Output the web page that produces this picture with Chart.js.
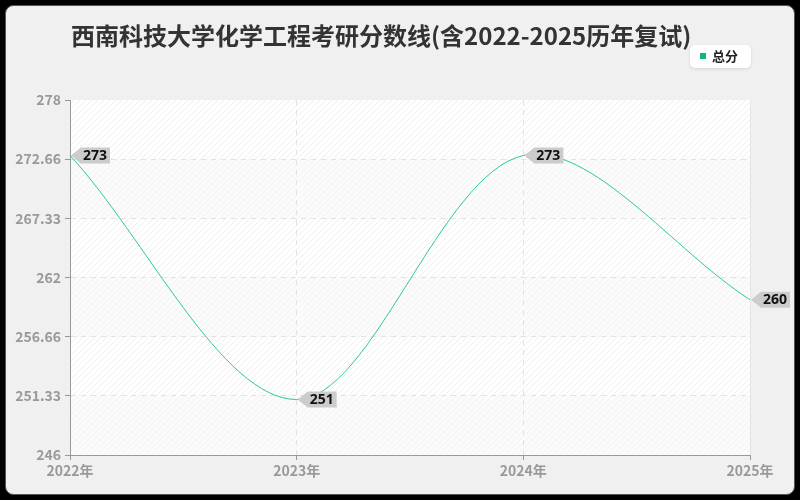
<!DOCTYPE html>
<html>
<head>
<meta charset="utf-8">
<script src="https://cdn.jsdelivr.net/npm/chart.js@4.4.1/dist/chart.umd.min.js"></script>
<style>
  html, body { margin: 0; padding: 0; background: #000; }
  #wrap { width: 800px; height: 500px; position: relative; }
</style>
</head>
<body>
<div id="wrap"><canvas id="scoreChart" width="800" height="500"></canvas></div>
<script>
// chart data
var years = ['2022年', '2023年', '2024年', '2025年'];
var totalScores = [273, 251, 273, 260];
var seriesName = '总分';
var yTickLabels = ['246', '251.33', '256.66', '262', '267.33', '272.66', '278'];
var yMin = 246, yMax = 278;
var titleText = '西南科技大学化学工程考研分数线(含2022-2025历年复试)';

var lineColor = '#2fc79b';
var cjk = '"Noto Sans CJK SC", "Noto Sans", sans-serif';

function hatch(bg, fg) {
  var c = document.createElement('canvas');
  c.width = 6; c.height = 6;
  var g = c.getContext('2d');
  g.fillStyle = bg;
  g.fillRect(0, 0, 6, 6);
  g.strokeStyle = fg;
  g.lineWidth = 1;
  g.beginPath();
  g.moveTo(0, 6); g.lineTo(6, 0);
  g.moveTo(-1, 1); g.lineTo(1, -1);
  g.moveTo(5, 7); g.lineTo(7, 5);
  g.stroke();
  return c;
}

// card background, title, legend and banded hatched plot area
var frame = {
  id: 'frame',
  beforeDraw: function(chart) {
    var ctx = chart.ctx, a = chart.chartArea;
    ctx.save();
    ctx.fillStyle = '#000';
    ctx.fillRect(0, 0, 800, 500);
    ctx.beginPath();
    ctx.roundRect(5.5, 5.5, 789, 489, 8);
    ctx.fillStyle = '#f0f0f0';
    ctx.fill();
    ctx.strokeStyle = '#555';
    ctx.lineWidth = 1;
    ctx.stroke();

    var strong = ctx.createPattern(hatch('#ffffff', '#eeeeee'), 'repeat');
    var faint = ctx.createPattern(hatch('#fbfbfb', '#f3f3f3'), 'repeat');
    var y = chart.scales.y;
    for (var i = 0; i < yTickLabels.length - 1; i++) {
      var v0 = yMin + i * (yMax - yMin) / 6;
      var v1 = yMin + (i + 1) * (yMax - yMin) / 6;
      var top = y.getPixelForValue(v1), bot = y.getPixelForValue(v0);
      ctx.fillStyle = (i % 2 === 1) ? strong : faint;
      if (i === 5) ctx.fillStyle = strong;
      if (i === 4) ctx.fillStyle = faint;
      ctx.fillRect(a.left, top, a.right - a.left, bot - top);
    }
    ctx.strokeStyle = '#e4e4e4';
    ctx.beginPath();
    ctx.moveTo(a.right + 0.5, a.top);
    ctx.lineTo(a.right + 0.5, a.bottom);
    ctx.stroke();

    // title
    ctx.fillStyle = '#333';
    ctx.font = 'bold 24px ' + cjk;
    ctx.textBaseline = 'middle';
    ctx.textAlign = 'left';
    ctx.fillText(titleText, 71, 36);

    // legend
    ctx.shadowColor = 'rgba(0,0,0,0.12)';
    ctx.shadowBlur = 3;
    ctx.shadowOffsetY = 1;
    ctx.beginPath();
    ctx.roundRect(690, 45, 61, 23, 5);
    ctx.fillStyle = '#fff';
    ctx.fill();
    ctx.shadowColor = 'transparent';
    ctx.fillStyle = '#10b585';
    ctx.fillRect(700, 53, 6, 6);
    ctx.fillStyle = '#222';
    ctx.font = 'bold 13px ' + cjk;
    ctx.fillText(seriesName, 712, 56);
    ctx.restore();
  }
};

// value tags with a left pointing arrow
var tags = {
  id: 'tags',
  afterDatasetsDraw: function(chart) {
    var ctx = chart.ctx;
    var meta = chart.getDatasetMeta(0);
    ctx.save();
    ctx.font = 'bold 14px "Noto Sans", sans-serif';
    meta.data.forEach(function(pt, i) {
      var x = pt.x + 1, y = pt.y;
      var txt = String(totalScores[i]);
      var w = ctx.measureText(txt).width + 5;
      ctx.beginPath();
      ctx.moveTo(x, y);
      ctx.lineTo(x + 10, y - 8);
      ctx.lineTo(x + 10 + w, y - 8);
      ctx.lineTo(x + 10 + w, y + 8);
      ctx.lineTo(x + 10, y + 8);
      ctx.closePath();
      ctx.fillStyle = '#cccccc';
      ctx.fill();
      ctx.fillStyle = '#111';
      ctx.textBaseline = 'middle';
      ctx.textAlign = 'left';
      ctx.fillText(txt, x + 12, y + 0.5);
    });
    ctx.restore();
  }
};

new Chart(document.getElementById('scoreChart'), {
  type: 'line',
  data: {
    labels: years,
    datasets: [{
      label: seriesName,
      data: totalScores,
      borderColor: lineColor,
      borderWidth: 1,
      tension: 0.33,
      pointRadius: 0,
      fill: false
    }]
  },
  options: {
    responsive: false,
    animation: false,
    layout: { padding: { top: 100, right: 50, left: 0, bottom: 0 } },
    plugins: {
      legend: { display: false },
      title: { display: false },
      tooltip: { enabled: false }
    },
    scales: {
      x: {
        offset: false,
        afterFit: function(s) { s.height = 45; },
        border: { display: true, color: '#999', dash: [5, 5] },
        grid: {
          color: function(c) { return (c.index === 0 || c.index === 3) ? 'transparent' : '#e2e2e2'; },
          tickColor: '#999',
          tickLength: 5,
          tickBorderDash: []
        },
        ticks: {
          color: '#999',
          font: { size: 14, family: cjk, weight: 'bold' },
          padding: 2,
          maxRotation: 0
        }
      },
      y: {
        min: yMin,
        max: yMax,
        afterFit: function(s) { s.width = 70; },
        afterBuildTicks: function(s) {
          s.ticks = yTickLabels.map(function(l, i) {
            return { value: yMin + i * (yMax - yMin) / 6 };
          });
        },
        border: { display: true, color: '#999', dash: [5, 5] },
        grid: {
          color: function(c) { return (c.index === 0 || c.index === 6) ? 'transparent' : '#e2e2e2'; },
          tickColor: '#999',
          tickLength: 5,
          tickBorderDash: []
        },
        ticks: {
          color: '#999',
          font: { size: 14, family: cjk, weight: 'bold' },
          padding: 4,
          callback: function(v, i) { return yTickLabels[i]; }
        }
      }
    }
  },
  plugins: [frame, tags]
});
</script>
</body>
</html>
